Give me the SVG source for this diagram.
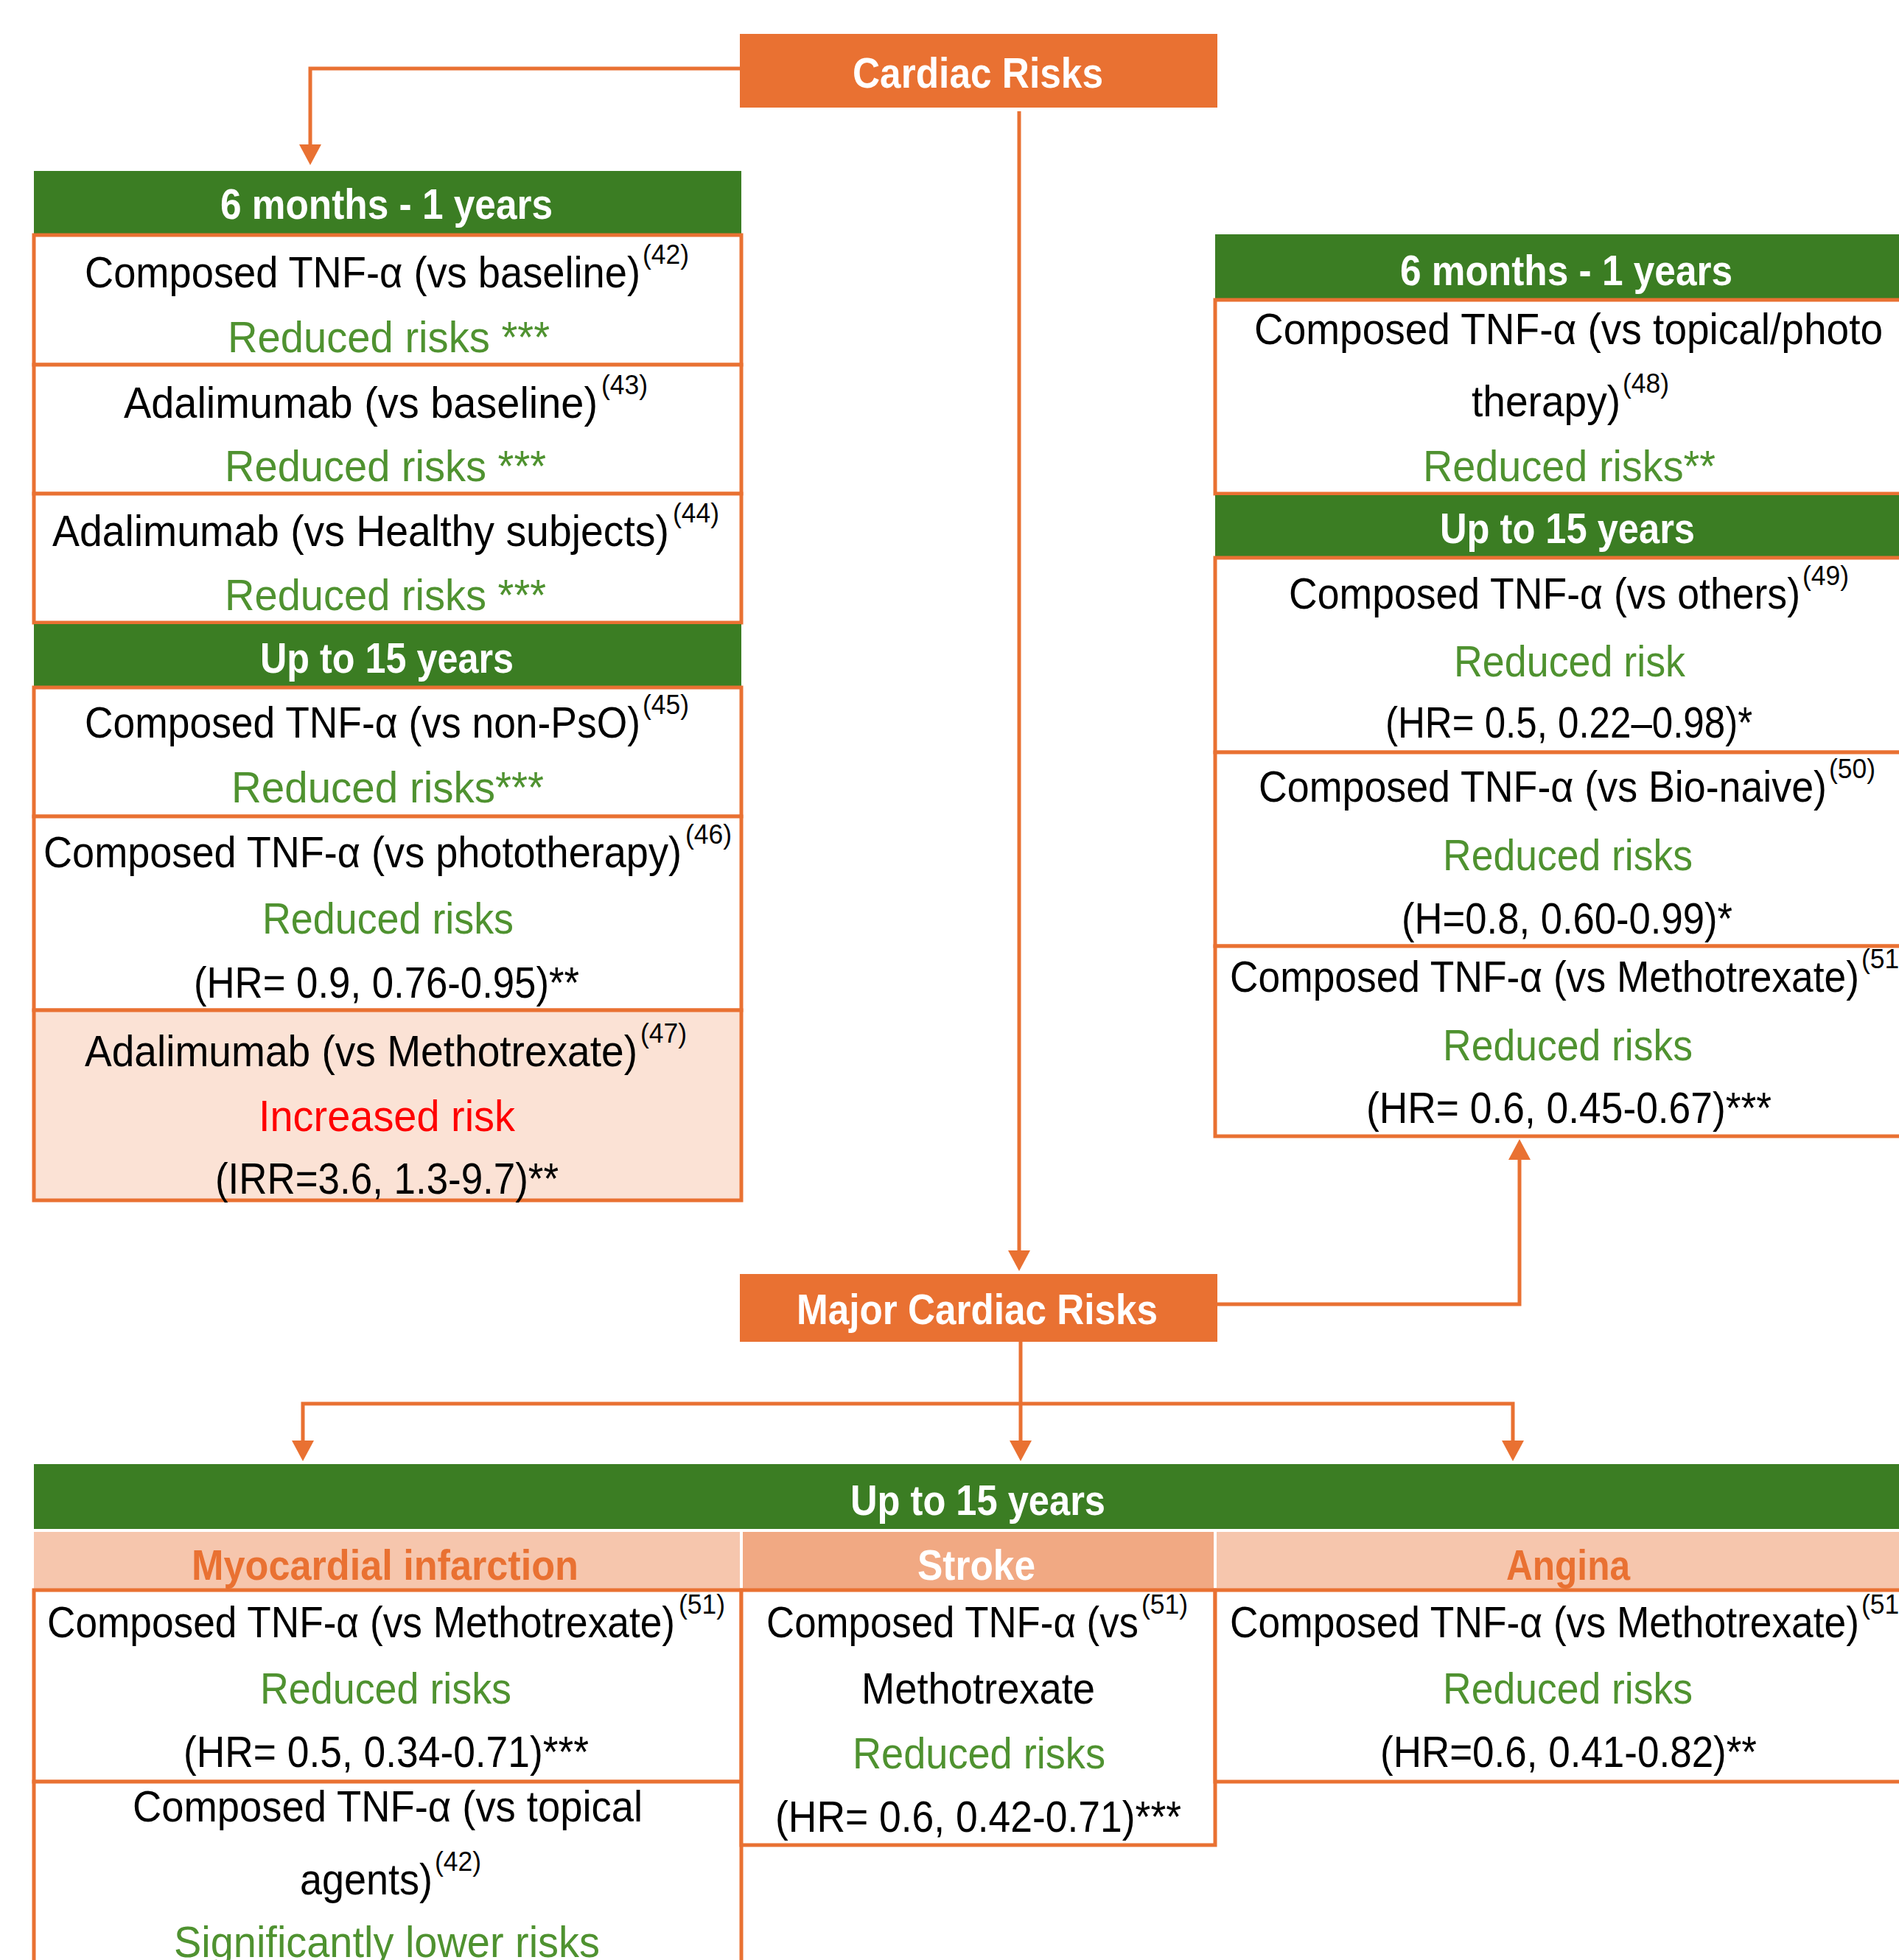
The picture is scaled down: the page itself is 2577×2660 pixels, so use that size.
<svg xmlns="http://www.w3.org/2000/svg" width="2577" height="2660" viewBox="0 0 2577 2660">
<style>
text{font-family:"Liberation Sans",Arial,sans-serif;font-size:60px;fill:#000}
.g{fill:#4F9230}
.r{fill:#FF0000}
.h{font-weight:bold;fill:#fff;font-size:58px}
.ho{font-weight:bold;fill:#E97132;font-size:58px}
.s{font-size:36px}
.gh{fill:#3B7D23}
.box{fill:#fff;stroke:#E97132;stroke-width:5}
.pink{fill:#FBE2D5;stroke:#E97132;stroke-width:5}
.sub{fill:#F6C6AD}
.sub2{fill:#F1A983}
.on{fill:#E97132}
.c{fill:none;stroke:#E97132;stroke-width:5}
</style>
<defs>
<marker id="ah" markerUnits="userSpaceOnUse" markerWidth="34" markerHeight="32" refX="6" refY="15" orient="auto">
<path d="M0,0 L28,15 L0,30 z" fill="#E97132"/>
</marker>
</defs>

<g id="connectors">
<path class="c" d="M1004,93 H421 V202" marker-end="url(#ah)"/>
<path class="c" d="M1383,151 V1703" marker-end="url(#ah)"/>
<path class="c" d="M1652,1770 H2062 V1568" marker-end="url(#ah)"/>
<path class="c" d="M1385,1820 V1961" marker-end="url(#ah)"/>
<path class="c" d="M1385,1905 H411 V1961" marker-end="url(#ah)"/>
<path class="c" d="M1385,1905 H2053 V1961" marker-end="url(#ah)"/>
</g>

<g id="cardiac-risks">
<rect class="on" x="1004" y="46" width="648" height="100"/>
<text class="h" x="1157" y="119" textLength="340" lengthAdjust="spacingAndGlyphs">Cardiac Risks</text>
</g>

<g id="major-cardiac-risks">
<rect class="on" x="1004" y="1729" width="648" height="92"/>
<text class="h" x="1081" y="1797" textLength="490" lengthAdjust="spacingAndGlyphs">Major Cardiac Risks</text>
</g>

<g id="left-column">
<rect class="gh" x="46" y="232" width="960" height="87"/>
<text class="h" x="299" y="297" textLength="451" lengthAdjust="spacingAndGlyphs">6 months - 1 years</text>
<rect class="box" x="46" y="319" width="960" height="176"/>
<text x="115" y="390" textLength="754" lengthAdjust="spacingAndGlyphs">Composed TNF-α (vs baseline)</text>
<text class="s" x="872" y="358" textLength="63" lengthAdjust="spacingAndGlyphs">(42)</text>
<text class="g" x="309" y="478" textLength="437" lengthAdjust="spacingAndGlyphs">Reduced risks ***</text>
<rect class="box" x="46" y="495" width="960" height="175"/>
<text x="168" y="567" textLength="643" lengthAdjust="spacingAndGlyphs">Adalimumab (vs baseline)</text>
<text class="s" x="816" y="535" textLength="63" lengthAdjust="spacingAndGlyphs">(43)</text>
<text class="g" x="305" y="653" textLength="436" lengthAdjust="spacingAndGlyphs">Reduced risks ***</text>
<rect class="box" x="46" y="670" width="960" height="175"/>
<text x="71" y="741" textLength="837" lengthAdjust="spacingAndGlyphs">Adalimumab (vs Healthy subjects)</text>
<text class="s" x="913" y="709" textLength="63" lengthAdjust="spacingAndGlyphs">(44)</text>
<text class="g" x="305" y="828" textLength="436" lengthAdjust="spacingAndGlyphs">Reduced risks ***</text>
<rect class="gh" x="46" y="847" width="960" height="85"/>
<text class="h" x="353" y="913" textLength="344" lengthAdjust="spacingAndGlyphs">Up to 15 years</text>
<rect class="box" x="46" y="933" width="960" height="175"/>
<text x="115" y="1001" textLength="754" lengthAdjust="spacingAndGlyphs">Composed TNF-α (vs non-PsO)</text>
<text class="s" x="872" y="969" textLength="63" lengthAdjust="spacingAndGlyphs">(45)</text>
<text class="g" x="314" y="1089" textLength="424" lengthAdjust="spacingAndGlyphs">Reduced risks***</text>
<rect class="box" x="46" y="1108" width="960" height="263"/>
<text x="59" y="1177" textLength="866" lengthAdjust="spacingAndGlyphs">Composed TNF-α (vs phototherapy)</text>
<text class="s" x="930" y="1145" textLength="63" lengthAdjust="spacingAndGlyphs">(46)</text>
<text class="g" x="356" y="1267" textLength="341" lengthAdjust="spacingAndGlyphs">Reduced risks</text>
<text x="263" y="1354" textLength="523" lengthAdjust="spacingAndGlyphs">(HR= 0.9, 0.76-0.95)**</text>
<rect class="pink" x="46" y="1371" width="960" height="258"/>
<text x="115" y="1447" textLength="750" lengthAdjust="spacingAndGlyphs">Adalimumab (vs Methotrexate)</text>
<text class="s" x="869" y="1415" textLength="63" lengthAdjust="spacingAndGlyphs">(47)</text>
<text class="r" x="351" y="1535" textLength="348" lengthAdjust="spacingAndGlyphs">Increased risk</text>
<text x="292" y="1620" textLength="466" lengthAdjust="spacingAndGlyphs">(IRR=3.6, 1.3-9.7)**</text>
</g>

<g id="right-column">
<rect class="gh" x="1649" y="318" width="960" height="89"/>
<text class="h" x="1900" y="387" textLength="451" lengthAdjust="spacingAndGlyphs">6 months - 1 years</text>
<rect class="box" x="1649" y="407" width="960" height="263"/>
<text x="1702" y="467" textLength="853" lengthAdjust="spacingAndGlyphs">Composed TNF-α (vs topical/photo</text>
<text x="1997" y="565" textLength="202" lengthAdjust="spacingAndGlyphs">therapy)</text>
<text class="s" x="2202" y="533" textLength="63" lengthAdjust="spacingAndGlyphs">(48)</text>
<text class="g" x="1931" y="653" textLength="397" lengthAdjust="spacingAndGlyphs">Reduced risks**</text>
<rect class="gh" x="1649" y="672" width="960" height="85"/>
<text class="h" x="1954" y="737" textLength="346" lengthAdjust="spacingAndGlyphs">Up to 15 years</text>
<rect class="box" x="1649" y="757" width="960" height="264"/>
<text x="1749" y="826" textLength="694" lengthAdjust="spacingAndGlyphs">Composed TNF-α (vs others)</text>
<text class="s" x="2446" y="794" textLength="63" lengthAdjust="spacingAndGlyphs">(49)</text>
<text class="g" x="1973" y="918" textLength="314" lengthAdjust="spacingAndGlyphs">Reduced risk</text>
<text x="1880" y="1001" textLength="498" lengthAdjust="spacingAndGlyphs">(HR= 0.5, 0.22–0.98)*</text>
<rect class="box" x="1649" y="1021" width="960" height="263"/>
<text x="1708" y="1088" textLength="771" lengthAdjust="spacingAndGlyphs">Composed TNF-α (vs Bio-naive)</text>
<text class="s" x="2482" y="1056" textLength="63" lengthAdjust="spacingAndGlyphs">(50)</text>
<text class="g" x="1958" y="1181" textLength="339" lengthAdjust="spacingAndGlyphs">Reduced risks</text>
<text x="1902" y="1267" textLength="449" lengthAdjust="spacingAndGlyphs">(H=0.8, 0.60-0.99)*</text>
<rect class="box" x="1649" y="1284" width="960" height="258"/>
<text x="1669" y="1346" textLength="854" lengthAdjust="spacingAndGlyphs">Composed TNF-α (vs Methotrexate)</text>
<text class="s" x="2526" y="1314" textLength="63" lengthAdjust="spacingAndGlyphs">(51)</text>
<text class="g" x="1958" y="1439" textLength="339" lengthAdjust="spacingAndGlyphs">Reduced risks</text>
<text x="1854" y="1524" textLength="550" lengthAdjust="spacingAndGlyphs">(HR= 0.6, 0.45-0.67)***</text>
</g>

<g id="bottom-header">
<rect class="gh" x="46" y="1987" width="2563" height="88"/>
<text class="h" x="1154" y="2056" textLength="346" lengthAdjust="spacingAndGlyphs">Up to 15 years</text>
</g>

<g id="myocardial-infarction">
<rect class="sub" x="46" y="2079" width="958" height="79"/>
<text class="ho" x="260" y="2144" textLength="525" lengthAdjust="spacingAndGlyphs">Myocardial infarction</text>
<rect class="box" x="46" y="2158" width="960" height="260"/>
<text x="64" y="2222" textLength="852" lengthAdjust="spacingAndGlyphs">Composed TNF-α (vs Methotrexate)</text>
<text class="s" x="921" y="2190" textLength="63" lengthAdjust="spacingAndGlyphs">(51)</text>
<text class="g" x="353" y="2312" textLength="341" lengthAdjust="spacingAndGlyphs">Reduced risks</text>
<text x="249" y="2398" textLength="550" lengthAdjust="spacingAndGlyphs">(HR= 0.5, 0.34-0.71)***</text>
<rect class="box" x="46" y="2418" width="960" height="262"/>
<text x="180" y="2472" textLength="692" lengthAdjust="spacingAndGlyphs">Composed TNF-α (vs topical</text>
<text x="407" y="2571" textLength="180" lengthAdjust="spacingAndGlyphs">agents)</text>
<text class="s" x="590" y="2539" textLength="63" lengthAdjust="spacingAndGlyphs">(42)</text>
<text class="g" x="236" y="2656" textLength="578" lengthAdjust="spacingAndGlyphs">Significantly lower risks</text>
</g>

<g id="stroke">
<rect class="sub2" x="1008" y="2079" width="639" height="79"/>
<text class="h" x="1245" y="2144" textLength="160" lengthAdjust="spacingAndGlyphs">Stroke</text>
<rect class="box" x="1006" y="2158" width="643" height="346"/>
<text x="1040" y="2222" textLength="505" lengthAdjust="spacingAndGlyphs">Composed TNF-α (vs</text>
<text class="s" x="1549" y="2190" textLength="63" lengthAdjust="spacingAndGlyphs">(51)</text>
<text x="1169" y="2312" textLength="317" lengthAdjust="spacingAndGlyphs">Methotrexate</text>
<text class="g" x="1157" y="2400" textLength="343" lengthAdjust="spacingAndGlyphs">Reduced risks</text>
<text x="1052" y="2486" textLength="551" lengthAdjust="spacingAndGlyphs">(HR= 0.6, 0.42-0.71)***</text>
</g>

<g id="angina">
<rect class="sub" x="1651" y="2079" width="958" height="79"/>
<text class="ho" x="2044" y="2144" textLength="168" lengthAdjust="spacingAndGlyphs">Angina</text>
<rect class="box" x="1649" y="2158" width="960" height="260"/>
<text x="1669" y="2222" textLength="854" lengthAdjust="spacingAndGlyphs">Composed TNF-α (vs Methotrexate)</text>
<text class="s" x="2526" y="2190" textLength="63" lengthAdjust="spacingAndGlyphs">(51)</text>
<text class="g" x="1958" y="2312" textLength="339" lengthAdjust="spacingAndGlyphs">Reduced risks</text>
<text x="1873" y="2398" textLength="511" lengthAdjust="spacingAndGlyphs">(HR=0.6, 0.41-0.82)**</text>
</g>
</svg>
